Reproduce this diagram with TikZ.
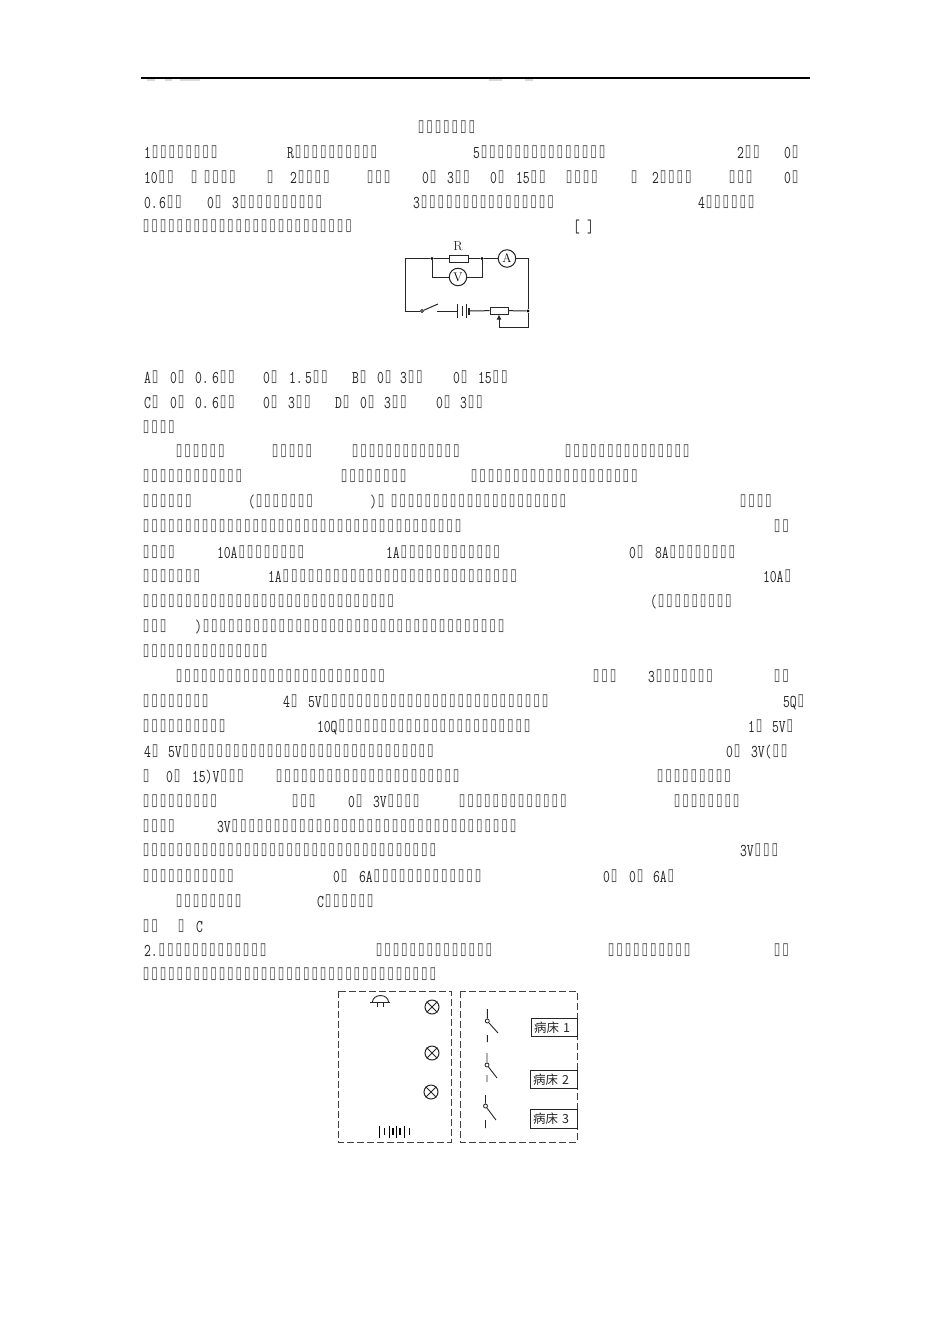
\documentclass[tikz,border=0pt]{standalone}
\usepackage{fontspec}
\usepackage{graphicx}
\usetikzlibrary{arrows.meta}
\newfontfamily\glyphfont{DejaVu Sans}
\newfontfamily\cjkfont{Noto Sans CJK SC}
\newfontfamily\halffont[FakeStretch=0.74]{Latin Modern Mono}
\newcounter{segc}
\catcode"25AF=\active
\def▯{\hbox to 8.43pt{\hss\raisebox{1.7pt}{\scalebox{0.85}[1.2]{\fontsize{14}{14}\glyphfont\color{black!70}\char"25AF}}\hss}}
\tikzset{
  x=1pt,y=-1pt,
  txt/.style={inner sep=0pt,outer sep=0pt,anchor=base west,text=black!85,font=\fontsize{18}{20}\halffont},
  wire/.style={draw=black!85,line width=1pt},
  frame/.style={draw=black!75,line width=0.85pt,dash pattern=on 7pt off 3pt},
  dot/.style={circle,fill=black,inner sep=0pt,minimum size=3.2pt},
  meter/.style={circle,draw=black!85,line width=1pt,inner sep=0pt,minimum size=17.5pt,font=\fontsize{12.5}{13}\rmfamily,fill=white},
  res/.style={rectangle,draw=black!85,line width=1pt,inner sep=0pt,minimum width=19pt,minimum height=7pt,fill=white},
  bed/.style={rectangle,draw=black!85,line width=1pt,inner ysep=0pt,inner xsep=2.5pt,align=left,anchor=north west,font=\fontsize{12.5}{13}\cjkfont,text=black!85},
  pivot/.style={circle,draw=black!85,line width=0.8pt,inner sep=0pt,minimum size=4pt,fill=white},
}
\newcommand{\seg}[3]{\stepcounter{segc}\node[txt] (t\arabic{segc}) at (#1,#2) {#3};}
\begin{document}
\begin{tikzpicture}
\useasboundingbox (0,0) rectangle (950,1344);
\fill[white] (0,0) rectangle (950,1344);
% header rule and faint marks
\coordinate (ruleL) at (141,78); \coordinate (ruleR) at (810,78);
\draw[black,line width=1.5pt] (ruleL) -- (ruleR);
\foreach \a/\b in {147/155,165/172,180/200,489/502,525/533}
  \fill[black!15] (\a,79) rectangle (\b,81);
% text
\seg{417}{133}{▯▯▯▯▯▯▯}
\seg{144}{158}{1▯▯▯▯▯▯▯▯}
\seg{287}{158}{R▯▯▯▯▯▯▯▯▯▯}
\seg{473}{158}{5▯▯▯▯▯▯▯▯▯▯▯▯▯▯▯}
\seg{737}{158}{2▯▯}
\seg{784}{158}{0▯}
\seg{144}{183}{10▯▯}
\seg{190}{183}{▯}
\seg{203}{183}{▯▯▯▯}
\seg{266}{183}{▯}
\seg{290}{183}{2▯▯▯▯}
\seg{366}{183}{▯▯▯}
\seg{422}{183}{0▯}
\seg{447}{183}{3▯▯}
\seg{490}{183}{0▯}
\seg{516}{183}{15▯▯}
\seg{565}{183}{▯▯▯▯}
\seg{630}{183}{▯}
\seg{652}{183}{2▯▯▯▯}
\seg{728}{183}{▯▯▯}
\seg{784}{183}{0▯}
\seg{144}{208}{0.}
\seg{159}{208}{6▯▯}
\seg{207}{208}{0▯}
\seg{232}{208}{3▯▯▯▯▯▯▯▯▯▯}
\seg{413}{208}{3▯▯▯▯▯▯▯▯▯▯▯▯▯▯▯▯}
\seg{698}{208}{4▯▯▯▯▯▯}
\seg{142}{232}{▯▯▯▯▯▯▯▯▯▯▯▯▯▯▯▯▯▯▯▯▯▯▯▯▯}
\seg{573}{232}{[}
\seg{587}{232}{]}
% options
\seg{144}{383}{A▯}
\seg{170}{383}{0▯}
\seg{195}{383}{0.}
\seg{212}{383}{6▯▯}
\seg{263}{383}{0▯}
\seg{289}{383}{1.}
\seg{305}{383}{5▯▯}
\seg{352}{383}{B▯}
\seg{377}{383}{0▯}
\seg{400}{383}{3▯▯}
\seg{453}{383}{0▯}
\seg{478}{383}{15▯▯}
\seg{144}{408}{C▯}
\seg{170}{408}{0▯}
\seg{195}{408}{0.}
\seg{212}{408}{6▯▯}
\seg{263}{408}{0▯}
\seg{288}{408}{3▯▯}
\seg{335}{408}{D▯}
\seg{360}{408}{0▯}
\seg{384}{408}{3▯▯}
\seg{436}{408}{0▯}
\seg{460}{408}{3▯▯}
\seg{142}{433}{▯▯▯▯}
% solution
\seg{175}{457}{▯▯▯▯▯▯}
\seg{271}{457}{▯▯▯▯▯}
\seg{351}{457}{▯▯▯▯▯▯▯▯▯▯▯▯▯}
\seg{564}{457}{▯▯▯▯▯▯▯▯▯▯▯▯▯▯▯}
\seg{142}{482}{▯▯▯▯▯▯▯▯▯▯▯▯}
\seg{340}{482}{▯▯▯▯▯▯▯▯}
\seg{470}{482}{▯▯▯▯▯▯▯▯▯▯▯▯▯▯▯▯▯▯▯▯}
\seg{142}{507}{▯▯▯▯▯▯}
\seg{248}{507}{(▯▯▯▯▯▯▯}
\seg{370}{507}{)▯}
\seg{390}{507}{▯▯▯▯▯▯▯▯▯▯▯▯▯▯▯▯▯▯▯▯▯}
\seg{739}{507}{▯▯▯▯}
\seg{142}{532}{▯▯▯▯▯▯▯▯▯▯▯▯▯▯▯▯▯▯▯▯▯▯▯▯▯▯▯▯▯▯▯▯▯▯▯▯▯▯}
\seg{773}{532}{▯▯}
\seg{142}{558}{▯▯▯▯}
\seg{217}{558}{10A▯▯▯▯▯▯▯▯}
\seg{386}{558}{1A▯▯▯▯▯▯▯▯▯▯▯▯}
\seg{629}{558}{0▯}
\seg{655}{558}{8A▯▯▯▯▯▯▯▯}
\seg{142}{582}{▯▯▯▯▯▯▯}
\seg{268}{582}{1A▯▯▯▯▯▯▯▯▯▯▯▯▯▯▯▯▯▯▯▯▯▯▯▯▯▯▯▯}
\seg{763}{582}{10A▯}
\seg{142}{607}{▯▯▯▯▯▯▯▯▯▯▯▯▯▯▯▯▯▯▯▯▯▯▯▯▯▯▯▯▯▯}
\seg{650}{607}{(▯▯▯▯▯▯▯▯▯}
\seg{142}{632}{▯▯▯}
\seg{195}{632}{)▯▯▯▯▯▯▯▯▯▯▯▯▯▯▯▯▯▯▯▯▯▯▯▯▯▯▯▯▯▯▯▯▯▯▯▯}
\seg{142}{657}{▯▯▯▯▯▯▯▯▯▯▯▯▯▯▯}
\seg{175}{682}{▯▯▯▯▯▯▯▯▯▯▯▯▯▯▯▯▯▯▯▯▯▯▯▯▯}
\seg{592}{682}{▯▯▯}
\seg{648}{682}{3▯▯▯▯▯▯▯}
\seg{773}{682}{▯▯}
\seg{142}{707}{▯▯▯▯▯▯▯▯}
\seg{283}{707}{4▯}
\seg{308}{707}{5V▯▯▯▯▯▯▯▯▯▯▯▯▯▯▯▯▯▯▯▯▯▯▯▯▯▯▯}
\seg{783}{707}{5Q▯}
\seg{142}{732}{▯▯▯▯▯▯▯▯▯▯}
\seg{317}{732}{10Q▯▯▯▯▯▯▯▯▯▯▯▯▯▯▯▯▯▯▯▯▯▯▯}
\seg{748}{732}{1▯}
\seg{772}{732}{5V▯}
\seg{144}{757}{4▯}
\seg{168}{757}{5V▯▯▯▯▯▯▯▯▯▯▯▯▯▯▯▯▯▯▯▯▯▯▯▯▯▯▯▯▯▯}
\seg{726}{757}{0▯}
\seg{751}{757}{3V(▯▯}
\seg{142}{782}{▯}
\seg{166}{782}{0▯}
\seg{192}{782}{15)V▯▯▯}
\seg{275}{782}{▯▯▯▯▯▯▯▯▯▯▯▯▯▯▯▯▯▯▯▯▯▯}
\seg{656}{782}{▯▯▯▯▯▯▯▯▯}
\seg{142}{807}{▯▯▯▯▯▯▯▯▯}
\seg{291}{807}{▯▯▯}
\seg{348}{807}{0▯}
\seg{373}{807}{3V▯▯▯▯}
\seg{458}{807}{▯▯▯▯▯▯▯▯▯▯▯▯▯}
\seg{673}{807}{▯▯▯▯▯▯▯▯}
\seg{142}{832}{▯▯▯▯}
\seg{217}{832}{3V▯▯▯▯▯▯▯▯▯▯▯▯▯▯▯▯▯▯▯▯▯▯▯▯▯▯▯▯▯▯▯▯▯▯}
\seg{142}{856}{▯▯▯▯▯▯▯▯▯▯▯▯▯▯▯▯▯▯▯▯▯▯▯▯▯▯▯▯▯▯▯▯▯▯▯}
\seg{740}{856}{3V▯▯▯}
\seg{142}{882}{▯▯▯▯▯▯▯▯▯▯▯}
\seg{333}{882}{0▯}
\seg{359}{882}{6A▯▯▯▯▯▯▯▯▯▯▯▯▯}
\seg{603}{882}{0▯}
\seg{629}{882}{0▯}
\seg{653}{882}{6A▯}
\seg{175}{907}{▯▯▯▯▯▯▯▯}
\seg{317}{907}{C▯▯▯▯▯▯}
\seg{142}{932}{▯▯}
\seg{177}{932}{▯}
\seg{196}{932}{C}
\seg{144}{956}{2.▯▯▯▯▯▯▯▯▯▯▯▯▯}
\seg{375}{956}{▯▯▯▯▯▯▯▯▯▯▯▯▯▯}
\seg{607}{956}{▯▯▯▯▯▯▯▯▯▯}
\seg{773}{956}{▯▯}
\seg{142}{980}{▯▯▯▯▯▯▯▯▯▯▯▯▯▯▯▯▯▯▯▯▯▯▯▯▯▯▯▯▯▯▯▯▯▯▯}
% circuit
\node[dot] (j1) at (432,258.5) {};
\node[dot] (j2) at (482,258.5) {};
\node[dot] (j3) at (528,311) {};
\coordinate (c1) at (405,258.5);
\coordinate (c2) at (528,258.5);
\coordinate (c3) at (405,311);
\coordinate (c4) at (528,327);
\coordinate (c5) at (499,327);
\coordinate (c6) at (432,277);
\coordinate (c7) at (482,277);
\node[res] (R) at (459,258.5) {};
\node[meter] (A) at (507,258.5) {A};
\node[meter] (V) at (458,277) {V};
\node[inner sep=0pt,font=\fontsize{13}{14}\rmfamily,text=black!85] (Rl) at (458,246.5) {R};
\node[pivot,minimum size=3pt] (sw) at (422,311) {};
\coordinate (swtip) at (438,304);
\coordinate (swr) at (437,311);
\coordinate (b1) at (457.5,311);
\coordinate (b4) at (469,311);
\node[res,minimum width=18pt,minimum height=7pt] (rh) at (499,310.5) {};
\draw[wire] (j1) -- (R) (R) -- (j2) -- (A) (A) -- (c2) -- (j3) -- (c4) -- (c5);
\draw[wire] (j1) -- (c1) -- (c3) -- (sw);
\draw[wire] (j1) -- (c6) -- (V) (V) -- (c7) -- (j2);
\draw[wire] (sw) -- (swtip);
\draw[wire] (swr) -- (b1);
\draw[wire] (457.5,304) -- (457.5,318);
\draw[wire] (462.5,306) -- (462.5,316);
\draw[wire] (466,304) -- (466,318);
\draw[wire,line width=1.7pt] (469,307.5) -- (469,314.5);
\draw[wire] (b4) -- (rh) (rh) -- (j3);
\draw[wire,-{Latex[length=5pt,width=5pt]}] (c5) -- (rh.south);
% left frame
\draw[frame] (338,991) rectangle (451,1142);
\draw[black!85,line width=0.9pt] (372.5,1002) arc (180:360:8 and 6.5);
\draw[black!85,line width=0.9pt] (370,1002) -- (390,1002) (377,1002) -- (377,1007) (383,1002) -- (383,1007);
\foreach \n/\px/\py in {l1/432/1007,l2/432/1053,l3/431/1092}{
  \node[circle,draw=black!85,line width=1pt,inner sep=0pt,minimum size=14pt] (\n) at (\px,\py) {};
  \draw[black!85,line width=1pt] (\n.45) -- (\n.225) (\n.135) -- (\n.315);
}
\foreach \x in {379.3,389.3,396,404.7} \draw[black,line width=0.8pt] (\x,1126) -- (\x,1138);
\foreach \x in {384.3,393,400,409.3} \draw[black,line width=1.5pt] (\x,1128) -- (\x,1135);
% right frame
\draw[frame] (460,991) rectangle (577,1142);
\node[bed,text width=41pt,minimum height=18pt] (b1n) at (531,1018) {病床 1};
\node[bed,text width=42pt,minimum height=18pt] (b2n) at (530,1070) {病床 2};
\node[bed,text width=42pt,minimum height=19pt] (b3n) at (530,1109) {病床 3};
\foreach \n/\px/\ya/\yb/\tipx/\tipy/\da/\db in {s1/487.3/1009/1021/498/1033/1035/1042,s2/487/1053/1065/497/1078/1075/1082,s3/485.5/1095/1106/496/1120/1120/1128}{
  \coordinate (\n top) at (\px,\ya);
  \node[pivot] (\n) at (\px,\yb) {};
  \coordinate (\n tip) at (\tipx,\tipy);
  \coordinate (\n da) at (\px,\da);
  \coordinate (\n db) at (\px,\db);
  \draw[black!85,line width=0.9pt] (\n top) -- (\n) (\n) -- (\n tip) (\n da) -- (\n db);
}
\end{tikzpicture}
\end{document}
